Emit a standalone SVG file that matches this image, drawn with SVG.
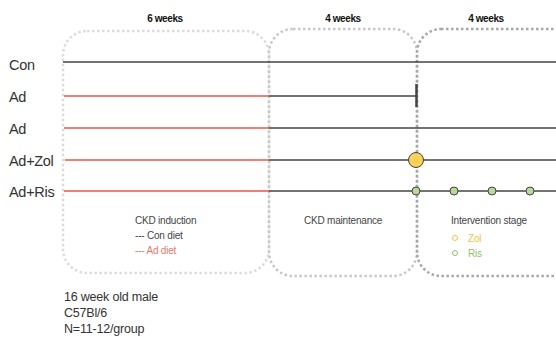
<svg xmlns="http://www.w3.org/2000/svg" width="556" height="337" viewBox="0 0 556 337">
<style>
text{font-family:"Liberation Sans",Arial,sans-serif;fill:#333}
.wk{font-size:10px;font-weight:bold;letter-spacing:-0.4px;text-anchor:middle;fill:#111}
.grp{font-size:14.5px;letter-spacing:-0.3px}
.lab{font-size:10px;letter-spacing:-0.2px;fill:#444}
.info{font-size:12.5px;letter-spacing:-0.2px}
.box{fill:none;stroke-width:2.5;stroke-dasharray:2.5 2.5}
.red{stroke:#e8574a;stroke-width:1.6;fill:none}
.dk{stroke:#444;stroke-width:1.6;fill:none}
</style>
<g id="stage-induction">
<rect class="box" x="63" y="31" width="206" height="242" rx="24" stroke="#dcdcdc"/>
<text class="wk" x="165" y="22">6 weeks</text>
<text class="lab" x="135" y="224">CKD induction</text>
<text class="lab" x="135" y="239">--- Con diet</text>
<text class="lab" x="135" y="254" style="fill:#e8776a">--- Ad diet</text>
</g>
<g id="stage-maintenance">
<rect class="box" x="269" y="29" width="148" height="247" rx="24" stroke="#c8c8c8"/>
<text class="wk" x="343" y="22">4 weeks</text>
<text class="lab" x="304" y="224">CKD maintenance</text>
</g>
<g id="stage-intervention">
<rect class="box" x="417" y="29" width="170" height="247" rx="24" stroke="#a8a8a8"/>
<text class="wk" x="486" y="22">4 weeks</text>
<text class="lab" x="451" y="224">Intervention stage</text>
<circle cx="455" cy="238" r="2.5" fill="none" stroke="#f5c342" stroke-width="1"/>
<text class="lab" x="468" y="242" style="fill:#f5c342">Zol</text>
<circle cx="455" cy="253" r="2.5" fill="none" stroke="#8fbf6a" stroke-width="1"/>
<text class="lab" x="468" y="257" style="fill:#8fbf6a">Ris</text>
</g>
<g id="labels">
<text class="grp" x="9" y="70">Con</text>
<text class="grp" x="9" y="102">Ad</text>
<text class="grp" x="9" y="134">Ad</text>
<text class="grp" x="9" y="166">Ad+Zol</text>
<text class="grp" x="9" y="197">Ad+Ris</text>
</g>
<g id="connectors">
<line class="dk" x1="63" y1="62" x2="556" y2="62"/>
<line class="red" x1="64" y1="96" x2="269" y2="96"/>
<line class="dk" x1="269" y1="96" x2="416" y2="96"/>
<line x1="416.5" y1="84" x2="416.5" y2="107" stroke="#444" stroke-width="2.5"/>
<line class="red" x1="64" y1="128" x2="269" y2="128"/>
<line class="dk" x1="269" y1="128" x2="556" y2="128"/>
<line class="red" x1="65" y1="160" x2="269" y2="160"/>
<line class="dk" x1="269" y1="160" x2="556" y2="160"/>
<line class="red" x1="64" y1="191" x2="269" y2="191"/>
<line class="dk" x1="269" y1="191" x2="556" y2="191"/>
</g>
<g id="zol-dose">
<circle cx="416" cy="160" r="7.5" fill="#fdd05a" stroke="#444" stroke-width="1"/>
</g>
<g id="ris-doses" fill="#b8d89c" stroke="#444" stroke-width="1">
<circle cx="416" cy="191" r="4"/>
<circle cx="454" cy="191" r="4"/>
<circle cx="492" cy="191" r="4"/>
<circle cx="530" cy="191" r="4"/>
</g>
<g id="info">
<text class="info" x="64" y="301">16 week old male</text>
<text class="info" x="64" y="317">C57Bl/6</text>
<text class="info" x="64" y="333">N=11-12/group</text>
</g>
</svg>
